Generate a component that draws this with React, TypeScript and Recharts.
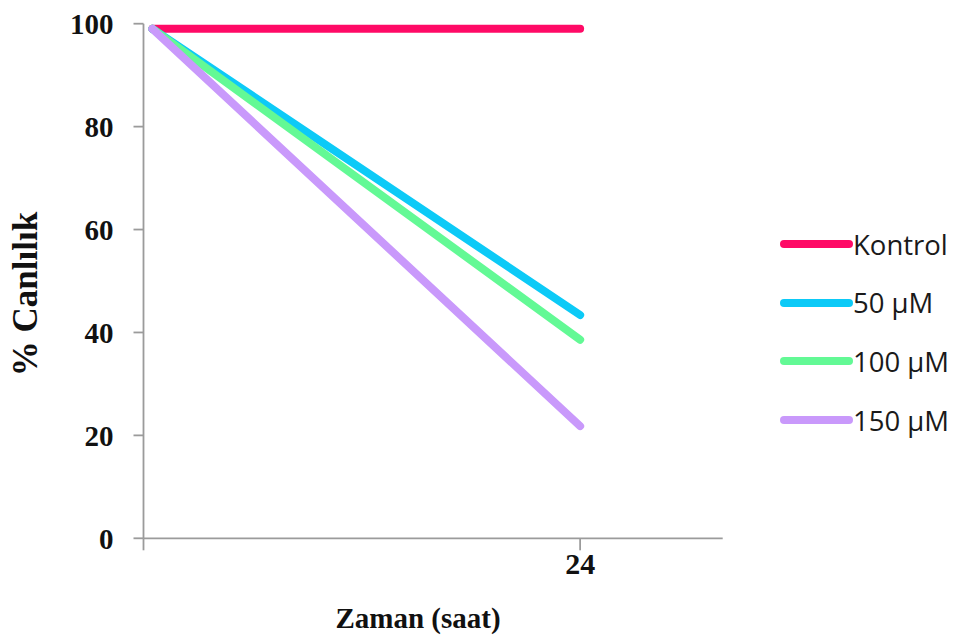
import { Line, LineChart, XAxis, YAxis } from "recharts";

// time points (hours) and viability (%) per treatment
const hours = [0, 24];
const seriesNames = ["Kontrol", "50 µM", "100 µM", "150 µM"];
const kontrol = [99, 99];
const dose50 = [99, 43.4];
const dose100 = [99, 38.6];
const dose150 = [99, 21.8];
const yTicks = [0, 20, 40, 60, 80, 100];

const colors = ["#ff0a66", "#0ccaf7", "#63f995", "#c999fb"];
const values = [kontrol, dose50, dose100, dose150];
const keys = ["kontrol", "d50", "d100", "d150"];

const data = hours.map((h, i) => ({
  saat: h,
  kontrol: kontrol[i],
  d50: dose50[i],
  d100: dose100[i],
  d150: dose150[i]
}));

const serif = "'Liberation Serif', 'Times New Roman', serif";
const axisColor = "#9b9b9b";

export default function App() {
  return (
    <div style={{ position: "absolute", left: 0, top: 0, width: 964, height: 642, background: "#fff" }}>
      <LineChart width={964} height={642} data={data} margin={{ top: 23.7, right: 241.3, bottom: 43.7, left: 0 }}>
        <XAxis
          dataKey="saat"
          type="number"
          domain={[-0.5, 32]}
          ticks={[-0.5, 24]}
          tickFormatter={(v: number) => (v === 24 ? "24" : "")}
          height={60}
          stroke={axisColor}
          strokeWidth={1.8}
          tickSize={12}
          tickMargin={2}
          tick={{ fill: "#111", fontSize: 30, fontWeight: 700, fontFamily: serif }}
          label={{
            content: () => (
              <text x={418} y={628} textAnchor="middle" fill="#111" fontSize={29} fontWeight={700} fontFamily={serif}>
                Zaman (saat)
              </text>
            )
          }}
        />
        <YAxis
          domain={[0, 100]}
          ticks={yTicks}
          width={143.5}
          stroke={axisColor}
          strokeWidth={1.8}
          tickSize={10}
          tickMargin={20}
          tick={{ fill: "#111", fontSize: 29, fontWeight: 700, fontFamily: serif }}
          label={{
            content: () => (
              <text
                x={25}
                y={294}
                transform="rotate(-90 25 294)"
                textAnchor="middle"
                dominantBaseline="central"
                fill="#111"
                fontSize={35}
                fontWeight={700}
                fontFamily={serif}
              >
                % Canlılık
              </text>
            )
          }}
        />
        {keys.map((k, i) => (
          <Line
            key={k}
            dataKey={k}
            name={seriesNames[i]}
            stroke={colors[i]}
            strokeWidth={8}
            strokeLinecap="round"
            dot={false}
            activeDot={false}
            isAnimationActive={false}
          />
        ))}
      </LineChart>
      {/* legend on the right */}
      <div style={{ position: "absolute", left: 780, top: 244 - 29 / 2, width: 184 }}>
        {seriesNames.map((n, i) => (
          <div
            key={n}
            style={{
              display: "flex",
              alignItems: "center",
              height: 29,
              marginBottom: i < values.length - 1 ? 29.7 : 0
            }}
          >
            <svg width={73} height={12} style={{ flex: "none" }}>
              <line x1={4} y1={6} x2={69} y2={6} stroke={colors[i]} strokeWidth={8} strokeLinecap="round" />
            </svg>
            <span style={{ fontFamily: "'Open Sans', sans-serif", fontSize: 27.5, color: "#1a1a1a", lineHeight: "29px", whiteSpace: "nowrap" }}>
              {n}
            </span>
          </div>
        ))}
      </div>
    </div>
  );
}
